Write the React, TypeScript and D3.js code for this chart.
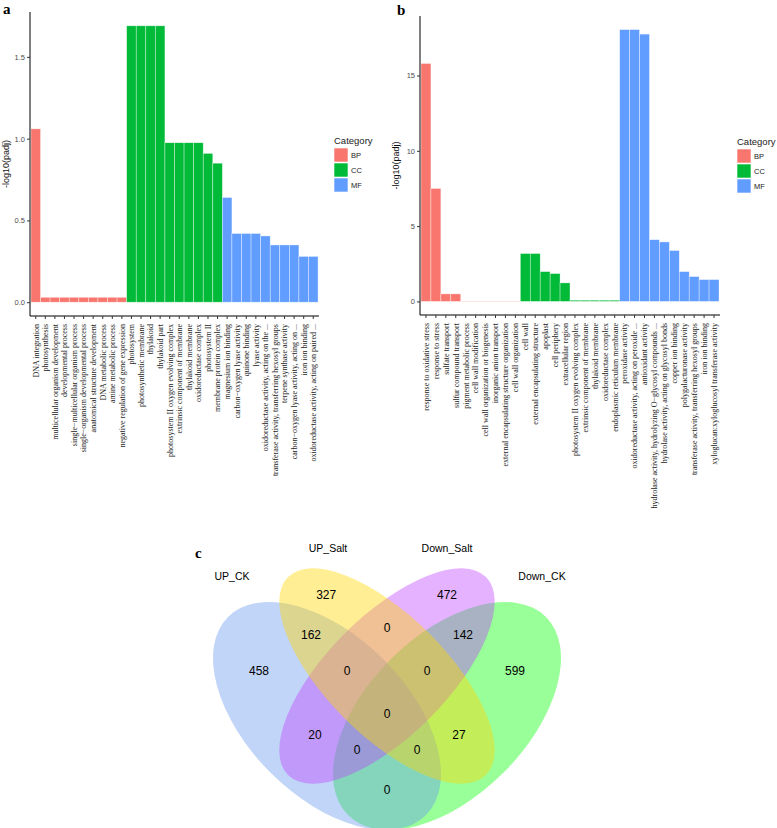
import { useEffect, useRef } from "react";
import * as d3 from "d3";

// ---- panel a: GO terms and -log10(padj)
const termsA = [
  "DNA integration",
  "photosynthesis",
  "multicellular organism development",
  "developmental process",
  "single−multicellular organism process",
  "single−organism developmental process",
  "anatomical structure development",
  "DNA metabolic process",
  "amine metabolic process",
  "negative regulation of gene expression",
  "photosystem",
  "photosynthetic membrane",
  "thylakoid",
  "thylakoid part",
  "photosystem II oxygen evolving complex",
  "extrinsic component of membrane",
  "thylakoid membrane",
  "oxidoreductase complex",
  "photosystem II",
  "membrane protein complex",
  "magnesium ion binding",
  "carbon−oxygen lyase activity",
  "quinone binding",
  "lyase activity",
  "oxidoreductase activity, acting on the ...",
  "transferase activity, transferring hexosyl groups",
  "terpene synthase activity",
  "carbon−oxygen lyase activity, acting on ...",
  "iron ion binding",
  "oxidoreductase activity, acting on paired ...",
];
const valuesA = [
  1.06, 0.03, 0.03, 0.03, 0.03, 0.03, 0.03, 0.03, 0.03, 0.03,
  1.69, 1.69, 1.69, 1.69, 0.975, 0.975, 0.975, 0.975, 0.91, 0.85,
  0.64, 0.42, 0.42, 0.42, 0.405, 0.35, 0.35, 0.35, 0.28, 0.28,
];
const ticksA = [0, 0.5, 1, 1.5];

// ---- panel b
const termsB = [
  "response to oxidative stress",
  "response to stress",
  "sulfate transport",
  "sulfur compound transport",
  "pigment metabolic process",
  "cell wall modification",
  "cell wall organization or biogenesis",
  "inorganic anion transport",
  "external encapsulating structure organization",
  "cell wall organization",
  "cell wall",
  "external encapsulating structure",
  "apoplast",
  "cell periphery",
  "extracellular region",
  "photosystem II oxygen evolving complex",
  "extrinsic component of membrane",
  "thylakoid membrane",
  "oxidoreductase complex",
  "endoplasmic reticulum membrane",
  "peroxidase activity",
  "oxidoreductase activity, acting on peroxide ...",
  "antioxidant activity",
  "hydrolase activity, hydrolyzing O−glycosyl compounds ...",
  "hydrolase activity, acting on glycosyl bonds",
  "copper ion binding",
  "polygalacturonase activity",
  "transferase activity, transferring hexosyl groups",
  "iron ion binding",
  "xyloglucan:xyloglucosyl transferase activity",
];
const valuesB = [
  15.8, 7.5, 0.5, 0.5, 0.02, 0.02, 0.02, 0.02, 0.02, 0.02,
  3.18, 3.18, 1.98, 1.85, 1.23, 0.08, 0.08, 0.08, 0.08, 0.08,
  18.05, 18.05, 17.75, 4.1, 3.95, 3.38, 1.98, 1.65, 1.45, 1.45,
];
const ticksB = [0, 5, 10, 15];

const categories = ["BP", "CC", "MF"];
const catColors = ["#F8766D", "#00BA38", "#619CFF"];
// each panel has 10 terms per category, in order
const catOf = (i: number) => categories[Math.floor(i / 10)];

// ---- panel c: 4-set Venn
const setNames = ["UP_CK", "UP_Salt", "Down_Salt", "Down_CK"];
const setColors = ["#6495ED", "#FFD700", "#BF3EFF", "#00FF00"];
// ellipse layout in unit space (VennDiagram quad layout)
const ellipses = [
  { cx: 0.35, cy: 0.47, a: 0.35, b: 0.2, rot: 45 },
  { cx: 0.5, cy: 0.57, a: 0.35, b: 0.15, rot: 45 },
  { cx: 0.5, cy: 0.57, a: 0.35, b: 0.15, rot: -45 },
  { cx: 0.65, cy: 0.47, a: 0.35, b: 0.2, rot: -45 },
];
// paint order: Down_CK, UP_CK, Down_Salt, UP_Salt
const drawOrder = [3, 0, 2, 1];
const setLabelPos = [
  [0.1125, 0.82],
  [0.3525, 0.89],
  [0.65, 0.89],
  [0.8875, 0.82],
];
const regionCounts = [327, 472, 162, 0, 142, 458, 0, 0, 599, 0, 20, 27, 0, 0, 0];
const regionPos = [
  [0.348, 0.773],
  [0.65, 0.773],
  [0.31, 0.673],
  [0.5, 0.69],
  [0.69, 0.673],
  [0.18, 0.583],
  [0.4, 0.583],
  [0.6, 0.583],
  [0.82, 0.583],
  [0.5, 0.475],
  [0.32, 0.4225],
  [0.68, 0.4225],
  [0.425, 0.385],
  [0.575, 0.385],
  [0.5, 0.285],
];

const SANS = "'Liberation Sans', Arial, sans-serif";
const SERIF = "'Liberation Serif', 'Times New Roman', serif";

function drawBars(
  g: d3.Selection<SVGGElement, unknown, null, undefined>,
  terms: string[],
  values: number[],
  ticks: number[],
  box: { x0: number; x1: number; y0: number; y1: number },
  legendX: number,
  legendY: number
) {
  const x = d3
    .scaleBand()
    .domain(terms)
    .range([box.x0, box.x1])
    .paddingInner(0)
    .paddingOuter(0.1);
  const maxV = d3.max(values)!;
  const pad = maxV * 0.05;
  const y = d3
    .scaleLinear()
    .domain([-pad, maxV + pad])
    .range([box.y1, box.y0]);
  const color = d3.scaleOrdinal<string>().domain(categories).range(catColors);

  g.selectAll("rect.bar")
    .data(values)
    .enter()
    .append("rect")
    .attr("class", "bar")
    .attr("x", (_, i) => x(terms[i])!)
    .attr("width", x.bandwidth())
    .attr("y", (d) => y(d))
    .attr("height", (d) => y(0) - y(d))
    .attr("fill", (_, i) => color(catOf(i)))
    .attr("stroke", "white")
    .attr("stroke-opacity", 0.6)
    .attr("stroke-width", 0.6);

  // y axis
  const ya = g
    .append("g")
    .attr("transform", `translate(${box.x0},0)`)
    .call(d3.axisLeft(y).tickValues(ticks).tickSize(3).tickPadding(2).tickFormat(ticks[1] < 1 ? d3.format(".1f") : d3.format("d")));
  ya.select(".domain").attr("d", `M0,${box.y0}V${box.y1}`).attr("stroke", "#000").attr("stroke-width", 1);
  ya.selectAll(".tick line").attr("stroke", "#333");
  ya.selectAll(".tick text").attr("fill", "#4d4d4d").attr("font-size", 7.5).attr("font-family", SANS);

  // x axis
  const xa = g
    .append("g")
    .attr("transform", `translate(0,${box.y1})`)
    .call(d3.axisBottom(x).tickSize(3).tickPadding(3));
  xa.select(".domain").attr("d", `M${box.x0},0H${box.x1}`).attr("stroke", "#000").attr("stroke-width", 1);
  xa.selectAll(".tick line").attr("stroke", "#333");
  xa.selectAll(".tick text")
    .attr("fill", "#222")
    .attr("font-size", 8)
    .attr("font-family", SERIF)
    .attr("text-anchor", "end")
    .attr("transform", "rotate(-90)")
    .attr("x", -8)
    .attr("y", 0)
    .attr("dy", "0.35em");

  // y title
  g.append("text")
    .attr("transform", `translate(${box.x0 - 21},${(box.y0 + box.y1) / 2}) rotate(-90)`)
    .attr("text-anchor", "middle")
    .attr("font-family", SANS)
    .attr("font-size", 9)
    .attr("fill", "#111")
    .text("-log10(padj)");

  // legend
  const lg = g.append("g").attr("transform", `translate(${legendX},${legendY})`);
  lg.append("text")
    .attr("x", 0)
    .attr("y", 0)
    .attr("font-family", SANS)
    .attr("font-size", 9.5)
    .attr("fill", "#222")
    .text("Category");
  categories.forEach((c, i) => {
    lg.append("rect")
      .attr("x", 0)
      .attr("y", 4 + i * 15)
      .attr("width", 14)
      .attr("height", 14)
      .attr("fill", color(c))
      .attr("stroke", "white")
      .attr("stroke-width", 0.6);
    lg.append("text")
      .attr("x", 17)
      .attr("y", 11 + i * 15)
      .attr("dy", "0.35em")
      .attr("font-family", SANS)
      .attr("font-size", 7.5)
      .attr("fill", "#222")
      .text(c);
  });
}

export default function App() {
  const ref = useRef<SVGSVGElement>(null);

  useEffect(() => {
    const svg = d3.select(ref.current);
    svg.selectAll("*").remove();
    svg.append("rect").attr("width", 777).attr("height", 828).attr("fill", "white");

    const ga = svg.append("g");
    drawBars(ga, termsA, valuesA, ticksA, { x0: 30, x1: 319, y0: 12, y1: 316 }, 334, 144);
    const gb = svg.append("g");
    drawBars(gb, termsB, valuesB, ticksB, { x0: 420, x1: 720, y0: 16, y1: 315 }, 737, 145);

    // panel letters
    const letters: [string, number, number][] = [
      ["a", 3, 14],
      ["b", 397, 15],
      ["c", 195, 558],
    ];
    letters.forEach(([t, lx, ly]) =>
      svg
        .append("text")
        .attr("x", lx)
        .attr("y", ly)
        .attr("font-family", SERIF)
        .attr("font-weight", "bold")
        .attr("font-size", 15)
        .text(t)
    );

    // venn
    const S = 400;
    const vx = d3.scaleLinear().domain([0, 1]).range([387 - S / 2, 387 + S / 2]);
    const vy = d3.scaleLinear().domain([0, 1]).range([904, 904 - S]);
    const gv = svg.append("g");
    drawOrder.forEach((i) => {
      const e = ellipses[i];
      gv.append("ellipse")
        .attr("transform", `translate(${vx(e.cx)},${vy(e.cy)}) rotate(${e.rot})`)
        .attr("rx", e.a * S)
        .attr("ry", e.b * S)
        .attr("fill", setColors[i])
        .attr("fill-opacity", i === 1 ? 0.42 : 0.4);
    });
    setNames.forEach((n, i) => {
      gv.append("text")
        .attr("x", vx(setLabelPos[i][0]))
        .attr("y", vy(setLabelPos[i][1]))
        .attr("dy", "0.35em")
        .attr("text-anchor", "middle")
        .attr("font-family", SANS)
        .attr("font-size", 10.5)
        .text(n);
    });
    regionCounts.forEach((c, i) => {
      gv.append("text")
        .attr("x", vx(regionPos[i][0]))
        .attr("y", vy(regionPos[i][1]))
        .attr("dy", "0.35em")
        .attr("text-anchor", "middle")
        .attr("font-family", SANS)
        .attr("font-size", 12)
        .text(c);
    });
  }, []);

  return (
    <div style={{ position: "absolute", left: 0, top: 0 }}>
      <svg ref={ref} width={777} height={828} style={{ display: "block" }}></svg>
    </div>
  );
}
